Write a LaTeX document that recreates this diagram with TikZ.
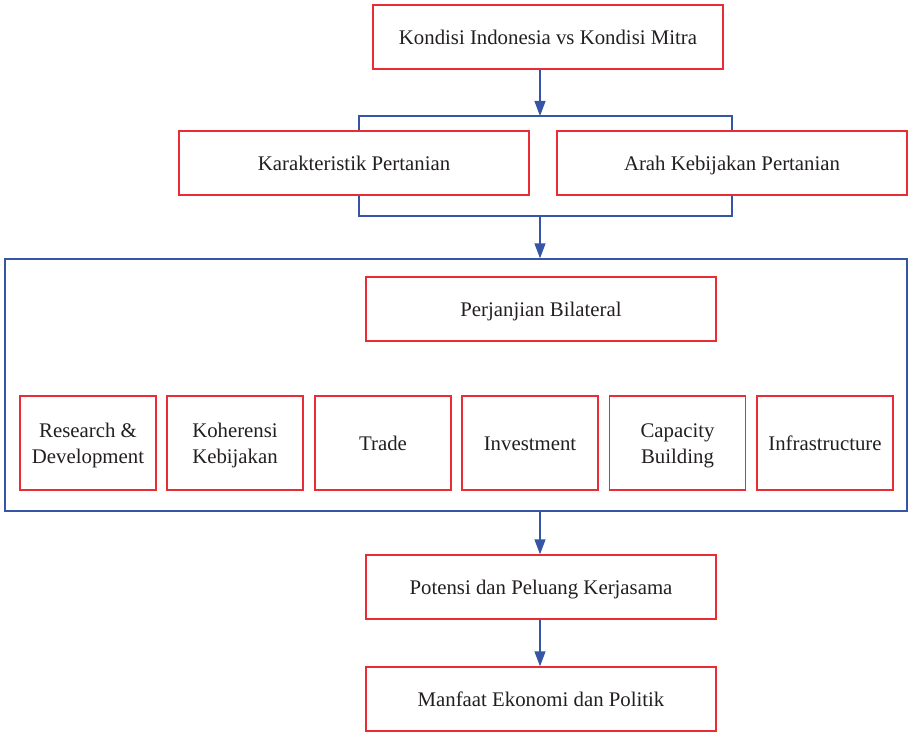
\documentclass[tikz,border=0pt]{standalone}
\usepackage{fontspec}
\setmainfont{Liberation Serif}
\usetikzlibrary{arrows.meta}
\definecolor{boxred}{RGB}{232,45,55}
\definecolor{linkblue}{RGB}{55,85,165}
\definecolor{txt}{RGB}{35,31,32}
\newcommand\mystrut{\rule[-5.3pt]{0pt}{26pt}}
\tikzset{
  redbox/.style={draw=boxred, line width=1.3pt, fill=white, text=txt, font=\fontsize{20.8}{26}\selectfont, align=center, inner sep=0pt},
  wide/.style={redbox, minimum width=350pt, minimum height=64pt},
  small/.style={redbox, minimum width=136pt, minimum height=94pt},
  link/.style={draw=linkblue, line width=1.3pt},
  arr/.style={link, -{Triangle[length=15pt,width=11pt]}}
}
\begin{document}
\begin{tikzpicture}[x=1pt,y=-1pt]
\useasboundingbox (0,0) rectangle (911,733);
% container
\node[draw=linkblue, line width=1.3pt, minimum width=902pt, minimum height=252pt, inner sep=0pt] (cont) at (456,385) {};
\node[wide] (kondisi) at (548,37) {\mystrut Kondisi Indonesia vs Kondisi Mitra};
\node[wide] (karak) at (354,163) {\mystrut Karakteristik Pertanian};
\node[wide] (arah) at (732,163) {\mystrut Arah Kebijakan Pertanian};
\node[wide] (perj) at (541,309) {\mystrut Perjanjian Bilateral};
\node[small] (rd) at (88,443) {\mystrut Research \&\\\mystrut Development};
\node[small] (koh) at (235,443) {\mystrut Koherensi\\\mystrut Kebijakan};
\node[small] (trade) at (383,443) {\mystrut Trade};
\node[small] (inv) at (530,443) {\mystrut Investment};
\node[small] (cap) at (677.5,443) {\mystrut Capacity\\\mystrut Building};
\node[small] (infra) at (825,443) {\mystrut Infrastructure};
\node[wide] (pot) at (541,587) {\mystrut Potensi dan Peluang Kerjasama};
\node[wide] (manf) at (541,699) {\mystrut Manfaat Ekonomi dan Politik};
% brackets
\coordinate (btop) at (540,116);
\coordinate (bbot) at (540,216);
\draw[link] (karak.north -| 359,0) |- (btop) -| (arah.north -| 732,0);
\draw[link] (karak.south -| 359,0) |- (bbot) -| (arah.south -| 732,0);
% arrows
\draw[arr] (kondisi.south -| btop) -- (btop);
\draw[arr] (bbot) -- (cont.north -| bbot);
\draw[arr] (cont.south -| bbot) -- (pot.north -| bbot);
\draw[arr] (pot.south -| bbot) -- (manf.north -| bbot);
\end{tikzpicture}
\end{document}
